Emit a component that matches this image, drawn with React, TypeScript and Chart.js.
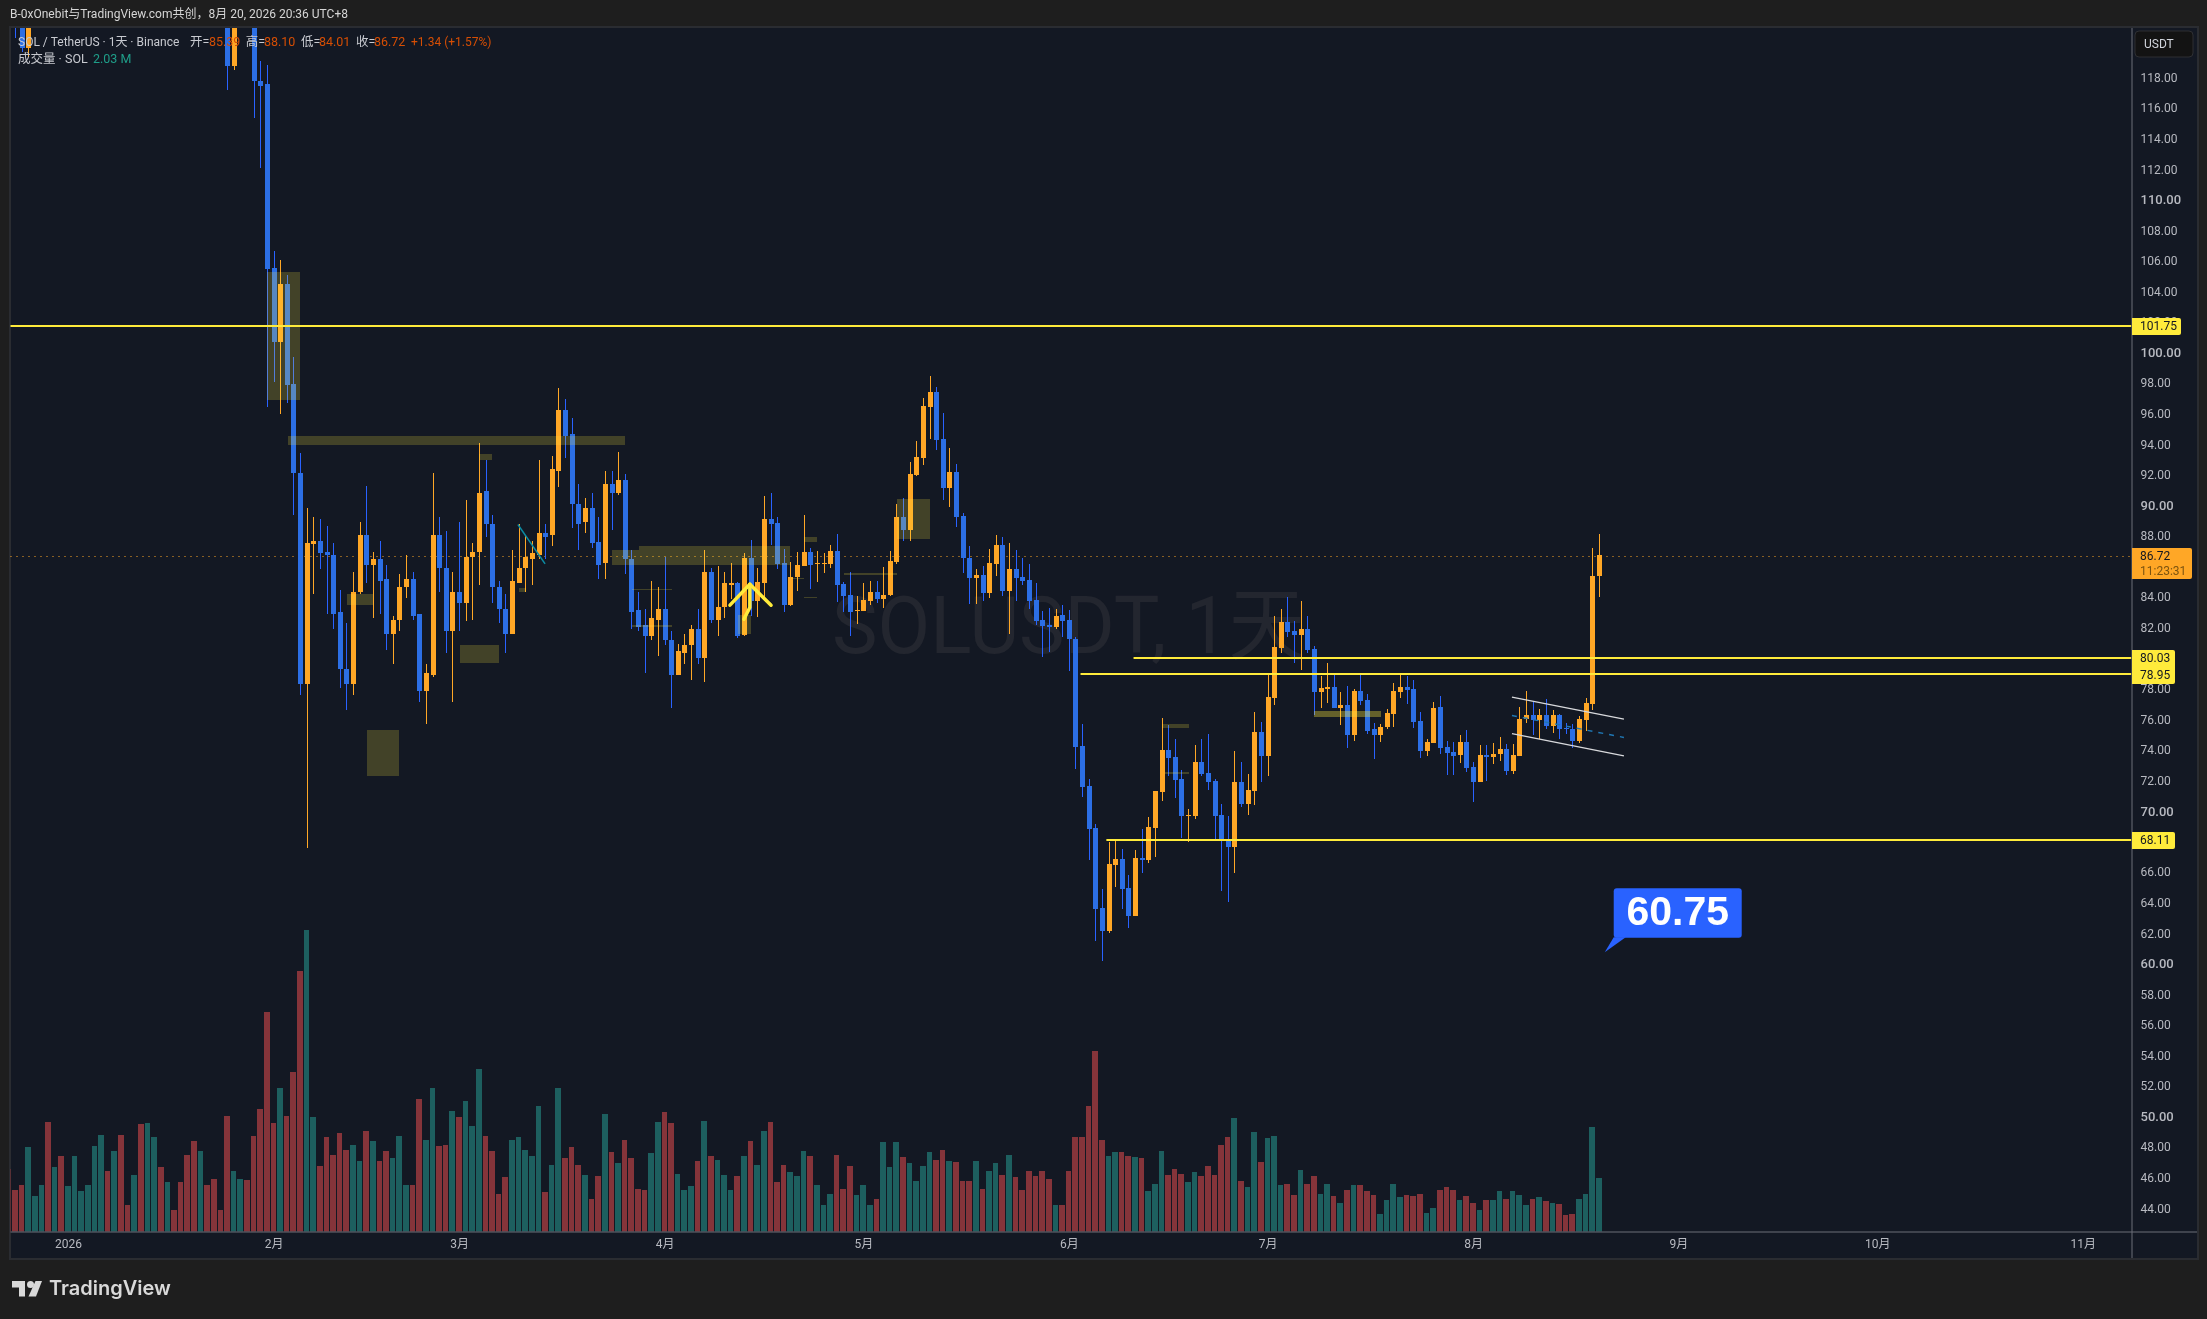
import React, { useEffect, useRef } from "react";
import { Chart, registerables } from "chart.js";

Chart.register(...registerables);

const FIRST_DAY = -9; // day index of first bar, 0 = 2026-01-01

const opens = [
  125.5,124.0,122.8,119.95,123.5,124.6,126.0,124.0,125.5,124.5,
  127.0,130.9,133.6,135.8,137.9,142.0,137.1,140.1,136.0,135.2,
  138.2,133.4,137.2,138.0,133.6,135.0,134.2,131.5,128.1,126.2,
  129.1,127.5,125.9,125.0,118.77,124.0,126.5,122.6,117.77,117.57,
  105.53,100.71,104.48,97.9,92.14,78.33,87.43,87.63,86.97,86.77,
  82.98,79.31,78.33,84.29,88.08,86.12,86.45,85.14,81.54,82.46,
  84.62,85.2,82.85,77.87,78.92,88.08,85.92,81.8,84.35,83.57,
  86.58,86.91,90.9,88.8,84.68,83.24,81.54,84.88,85.86,86.51,
  86.77,88.15,88.02,92.27,96.2,94.63,90.05,88.87,89.85,87.56,
  86.19,91.42,90.77,91.68,86.51,83.11,82.13,81.41,82.52,83.24,
  81.21,78.92,80.36,80.82,81.93,79.97,85.6,82.52,83.31,84.81,
  84.94,81.5,86.54,83.72,84.9,89.09,88.83,86.21,83.46,85.29,
  86.01,86.93,86.14,86.14,86.14,86.99,84.83,84.11,83.07,83.07,
  83.72,84.31,83.85,84.11,86.27,89.22,88.37,91.97,93.08,96.42,
  97.4,94.32,91.12,92.16,89.29,86.54,85.23,85.42,84.25,86.14,
  87.39,84.38,85.82,85.29,85.1,83.79,82.48,82.15,82.02,82.81,
  82.48,81.27,74.24,71.62,68.88,63.64,62.14,66.45,66.85,64.95,
  63.12,66.91,66.78,68.88,71.23,73.98,73.52,72.08,69.66,69.66,
  73.2,72.48,71.95,69.73,68.16,67.63,71.89,70.45,71.3,75.16,
  73.59,77.38,80.66,82.36,81.77,81.51,81.9,80.59,77.78,77.97,
  78.1,76.73,76.93,74.96,77.84,77.25,75.36,74.96,75.49,76.33,
  77.78,78.1,77.97,75.88,73.92,74.44,76.79,74.18,73.85,73.65,
  74.5,72.87,71.89,73.65,73.52,73.72,74.05,72.61,73.59,76.01,
  76.27,75.94,76.27,75.55,76.27,75.44,75.37,74.59,75.96,77.01,85.39,
];

const highs = [
  126.5,125.0,123.5,124.5,125.4,126.6,127.2,126.0,126.4,127.4,
  131.3,134.0,136.2,138.3,142.6,142.9,140.6,141.2,136.9,138.8,
  139.0,137.8,138.6,138.8,135.6,135.8,134.9,132.2,128.9,129.6,
  129.9,128.1,126.5,125.6,124.6,127.2,127.1,123.4,119.08,118.82,
  106.64,106.05,105.07,99.67,93.43,89.85,89.2,89.07,88.67,87.5,
  84.42,82.26,85.66,88.93,91.29,86.97,87.69,86.12,82.72,85.53,
  86.71,85.6,82.85,79.64,92.08,89.26,88.28,85.66,88.93,90.31,
  87.5,94.04,92.99,89.33,85.07,84.16,87.1,88.8,88.02,87.69,
  92.99,88.74,93.25,97.7,96.92,95.68,91.42,90.44,90.83,89.2,
  92.27,92.21,93.45,92.01,87.04,84.29,83.24,85.01,84.62,86.64,
  81.8,80.95,81.6,82.13,83.24,87.04,85.92,85.99,85.66,86.25,
  85.0,86.86,87.71,85.88,90.59,90.79,89.22,87.13,86.27,86.93,
  89.35,87.19,86.99,86.86,87.39,88.11,84.97,85.62,84.05,84.9,
  85.03,85.03,85.95,86.99,90.07,90.46,92.82,94.19,97.01,98.45,
  97.73,96.03,93.74,92.69,89.48,87.32,85.82,86.01,87.13,88.04,
  87.91,87.52,87.06,86.54,86.14,84.9,83.07,83.26,83.2,83.46,
  83.13,81.35,75.68,72.08,69.14,64.88,67.96,68.09,67.5,65.8,
  67.44,68.81,69.6,71.3,76.08,75.62,74.7,72.67,70.12,74.31,
  74.7,75.03,72.08,70.45,69.66,73.92,73.2,72.41,76.47,75.81,
  78.89,82.75,83.21,83.99,82.42,83.73,82.75,80.79,78.82,79.67,
  78.89,77.78,78.17,77.97,78.89,77.65,75.75,75.68,76.66,78.37,
  78.89,78.82,78.56,76.47,74.7,77.12,77.52,74.57,74.5,74.96,
  75.29,73.2,74.31,74.31,74.44,74.83,74.37,74.37,76.79,77.84,
  77.12,76.66,77.32,76.6,76.34,75.76,75.7,76.22,77.4,87.22,88.10,
];

const lows = [
  123.5,120.56,119.69,119.36,122.6,123.9,123.4,123.2,123.8,124.1,
  126.5,130.0,132.8,134.9,137.1,136.4,136.3,135.5,134.6,134.6,
  132.7,133.0,136.1,133.1,132.9,133.6,130.9,127.4,125.6,125.7,
  126.9,125.3,124.4,117.14,118.49,123.2,122.2,115.37,112.1,96.42,
  98.05,95.94,96.66,89.33,77.61,67.56,84.16,85.8,82.85,81.93,
  78.07,76.63,77.55,84.22,84.88,82.59,82.91,80.5,79.64,81.8,
  83.96,82.52,77.15,75.65,78.73,84.35,80.36,77.15,81.74,82.39,
  82.52,84.81,87.95,83.63,82.32,80.3,81.54,84.88,84.35,84.75,
  86.51,86.51,87.36,91.16,93.12,88.54,87.04,88.15,87.17,85.14,
  85.14,88.41,90.7,85.47,81.87,81.74,78.99,81.15,80.1,80.82,
  76.7,78.86,79.58,78.53,79.64,78.4,82.26,81.41,82.65,83.83,
  81.28,81.43,82.76,82.68,83.79,87.39,85.82,83.0,83.39,84.38,
  86.01,84.51,84.97,85.56,85.88,83.66,83.0,81.43,82.22,83.07,
  83.46,83.59,83.26,84.05,86.14,87.65,87.65,91.9,92.62,94.32,
  93.6,90.33,89.87,88.56,85.56,83.53,83.53,83.72,83.92,85.36,
  84.05,81.56,83.72,84.77,83.2,82.15,80.06,80.38,81.89,81.37,
  79.14,72.74,70.91,66.78,61.48,60.17,62.0,65.02,63.58,62.33,
  63.12,65.93,66.59,66.98,70.64,72.28,70.84,68.22,67.96,69.47,
  72.28,71.36,68.16,64.75,64.03,65.93,70.25,69.73,70.38,71.89,
  72.28,76.93,80.33,81.38,79.67,79.22,80.33,76.27,76.73,77.06,
  76.73,75.62,74.11,74.57,76.93,75.03,73.39,74.5,75.36,75.49,
  77.38,77.0,75.42,73.46,73.59,74.44,73.72,72.34,72.34,73.13,
  72.54,70.58,71.89,71.95,73.06,73.26,72.34,72.41,73.59,75.75,
  74.96,74.7,75.36,75.09,74.7,75.05,74.13,74.46,75.24,76.62,84.01,
];

const closes = [
  124.0,122.8,119.95,123.5,124.6,126.0,124.0,125.5,124.5,127.0,
  130.9,133.6,135.8,137.9,142.0,137.1,140.1,136.0,135.2,138.2,
  133.4,137.2,138.0,133.6,135.0,134.2,131.5,128.1,126.2,129.1,
  127.5,125.9,125.0,118.77,124.0,126.5,122.6,117.73,117.44,105.49,
  100.71,104.48,97.84,92.1,78.33,87.5,87.63,86.9,86.71,82.91,
  79.25,78.33,84.35,88.08,86.12,86.45,85.01,81.54,82.52,84.68,
  85.2,82.72,77.87,78.99,88.08,85.86,81.8,84.35,83.57,86.64,
  86.97,90.83,88.74,84.68,83.18,81.54,85.01,85.92,86.58,86.84,
  88.21,87.95,92.34,96.2,94.56,90.05,88.8,89.85,87.5,86.12,
  91.42,90.77,91.68,86.45,83.04,82.06,81.41,82.59,83.24,81.15,
  78.92,80.43,80.82,81.93,79.97,85.6,82.52,83.37,84.88,84.94,
  81.47,86.54,83.72,84.97,89.09,88.76,86.14,83.46,85.29,86.08,
  86.93,86.08,86.21,86.21,86.99,84.77,84.05,83.0,83.13,83.79,
  84.31,83.85,84.11,86.34,89.22,88.37,92.03,93.15,96.48,97.4,
  94.26,91.12,92.16,89.22,86.54,85.23,85.42,84.25,86.21,87.39,
  84.38,85.82,85.23,85.03,83.72,82.41,82.09,82.02,82.74,82.41,
  81.24,74.2,71.56,68.81,63.58,62.14,66.52,66.85,64.88,63.12,
  66.91,66.78,68.94,71.3,73.98,73.46,72.02,69.66,69.73,73.2,
  72.41,71.89,69.66,68.16,67.63,71.89,70.45,71.36,75.16,73.59,
  77.45,80.72,82.36,81.7,81.51,81.9,80.53,77.78,78.04,78.1,
  76.73,76.93,74.96,77.84,77.19,75.22,74.96,75.49,76.4,77.84,
  78.1,77.91,75.81,73.92,74.5,76.73,74.11,73.78,73.59,74.5,
  72.8,71.89,73.65,73.52,73.72,74.05,72.61,73.65,76.01,76.27,
  75.94,76.27,75.55,76.27,75.36,75.37,74.59,76.03,77.07,85.39,86.72,
];

const volumes = [
  2.39,1.59,1.78,3.22,1.33,1.78,4.17,2.43,2.88,1.71,
  2.85,1.52,1.78,3.26,3.68,2.28,3.04,3.68,0.99,2.16,
  4.06,4.10,3.60,2.43,1.86,0.83,1.86,2.92,3.45,3.07,
  1.78,2.01,0.83,4.40,2.31,2.01,1.97,3.64,4.63,8.31,
  4.10,5.43,4.40,6.07,9.90,11.42,4.36,2.47,3.57,2.92,
  3.72,3.11,3.30,2.66,3.83,3.45,2.69,3.07,2.77,3.64,
  1.75,1.78,5.01,3.49,5.46,3.26,3.30,4.59,4.33,4.97,
  4.02,6.15,3.64,3.07,1.44,2.05,3.49,3.57,3.11,2.85,
  4.78,1.48,2.54,5.46,2.77,3.22,2.54,2.16,1.25,2.09,
  4.44,3.00,2.58,3.49,2.77,1.63,1.59,2.96,4.17,4.55,
  4.10,2.20,1.56,1.71,2.66,4.21,2.88,2.73,2.16,1.56,
  2.12,2.88,3.45,2.54,3.83,4.14,1.86,2.54,2.24,2.09,
  3.07,2.85,1.78,1.02,1.44,2.92,1.63,2.50,1.37,1.78,
  1.02,1.25,3.38,2.43,3.38,2.81,2.58,1.93,2.50,3.00,
  2.73,3.11,2.66,2.62,1.93,1.90,2.69,1.63,2.31,2.58,
  2.16,2.92,2.05,1.56,2.31,2.09,2.28,2.01,1.02,0.99,
  2.28,3.57,3.57,4.78,6.83,3.49,2.88,3.00,3.00,2.88,
  2.81,2.77,1.52,1.82,3.04,2.16,2.39,2.20,1.86,2.24,
  2.09,2.50,2.16,3.30,3.60,4.29,1.90,1.67,3.76,2.62,
  3.53,3.64,1.75,1.82,1.40,2.35,1.82,2.12,1.44,1.82,
  1.33,1.10,1.59,1.78,1.75,1.52,1.37,0.68,1.18,1.82,
  1.29,1.40,1.33,1.44,0.72,0.91,1.59,1.67,1.59,1.21,
  1.33,1.10,0.83,1.21,1.18,1.52,1.25,1.52,1.37,0.99,
  1.25,1.29,1.14,1.10,1.06,0.61,0.68,1.25,1.44,3.95,2.03,
];

const monthTicks = [0, 31, 59, 90, 120, 151, 181, 212, 243, 273, 304];
const monthLabels = ["2026", "2月", "3月", "4月", "5月", "6月", "7月", "8月", "9月", "10月", "11月"];
const priceTicks = [
  44, 46, 48, 50, 52, 54, 56, 58, 60, 62, 64, 66, 68, 70, 72, 74, 76, 78, 80, 82, 84, 86, 88, 90,
  92, 94, 96, 98, 100, 102, 104, 106, 108, 110, 112, 114, 116, 118, 120,
];

// horizontal levels: [start day, price]
const levels = [
  [-9, 101.75],
  [160.7, 80.03],
  [152.7, 78.95],
  [156.6, 68.11],
];
// shaded zones: [day from, day to, price top, price bottom, strength]
const zones = [
  [30, 34.9, 105.26, 96.89, 0.2],
  [33.1, 83.9, 94.5, 93.97, 0.2],
  [61.95, 63.9, 93.32, 92.99, 0.2],
  [42, 46, 84.22, 83.5, 0.2],
  [45, 49.9, 75.26, 72.25, 0.2],
  [59, 65, 80.88, 79.7, 0.2],
  [68, 69, 84.55, 84.35, 0.2],
  [82, 86, 87.1, 86.06, 0.2],
  [86, 108.8, 87.3, 86.12, 0.2],
  [85, 91, 84.5, 84.42, 0.2],
  [85, 91, 82.13, 82.0, 0.2],
  [101, 103, 82.81, 81.56, 0.2],
  [111, 113, 87.91, 87.58, 0.2],
  [109, 111, 85.23, 85.16, 0.2],
  [111, 113, 83.98, 83.92, 0.2],
  [117, 125, 85.56, 85.42, 0.2],
  [125, 130, 90.4, 87.78, 0.2],
  [165, 169, 75.68, 75.42, 0.2],
  [165.5, 169, 72.54, 72.41, 0.2],
  [188, 198, 76.53, 76.14, 0.35],
];
// sloped drawings: [day a, price a, day b, price b]
const channelLines = [
  [217.8, 77.44, 234.7, 76.0],
  [217.8, 75.05, 234.7, 73.6],
];
const channelMid = [217.8, 76.24, 234.7, 74.8];
const tealLine = [67.8, 88.74, 71.9, 86.16];
const arrowHead = [
  [99.8, 83.46],
  [102.8, 84.83],
  [106, 83.46],
];
const arrowShaft = [
  [102.8, 84.83],
  [102.8, 83.31],
  [101.9, 82.54],
];
const calloutPoint = [231.8, 60.75];
const LAST_PRICE = 86.72;

const FONT = '"Roboto","Noto Sans CJK SC",sans-serif';
const BLUE = "#2c6fe5";
const BLUE_WICK = "#2962ff";
const ORANGE = "#ffa726";
const YELLOW = "#ffeb3b";
const VOL_UP = "#1d5f5f";
const VOL_DOWN = "#85343a";

const days = opens.map((_, k) => k + FIRST_DAY);
const isUp = opens.map((o, k) => closes[k] >= o);

function txt(ctx: any, s: string, x: number, y: number, color: string, font: string, align: any = "left") {
  ctx.fillStyle = color;
  ctx.font = font;
  ctx.textAlign = align;
  ctx.textBaseline = "middle";
  ctx.fillText(s, x, y);
}

function snapBars(chart: any) {
  const step = chart.scales.x.getPixelForValue(1) - chart.scales.x.getPixelForValue(0);
  const snapY = (el: any) => {
    const top = Math.round(Math.min(el.y, el.base));
    let bottom = Math.round(Math.max(el.y, el.base));
    if (bottom <= top) bottom = top + 1;
    el.y = top;
    el.base = bottom;
    el.height = bottom - top;
  };
  chart.getDatasetMeta(0).data.forEach((el: any) => {
    const cx = Math.floor(el.x);
    el.x = cx + 0.5;
    el.width = 5;
    snapY(el);
  });
  chart.getDatasetMeta(1).data.forEach((el: any) => {
    const cx = Math.floor(el.x);
    el.x = cx + 0.5;
    el.width = 1;
    snapY(el);
  });
  chart.getDatasetMeta(2).data.forEach((el: any) => {
    const left = Math.floor(el.x) - 3;
    const right = Math.floor(el.x + step) - 4;
    el.x = (left + right) / 2;
    el.width = right - left;
    snapY(el);
  });
}

const tvPlugin = {
  id: "tvDecor",
  beforeDraw(chart: any) {
    const ctx = chart.ctx;
    ctx.save();
    ctx.fillStyle = "#1e1e1e";
    ctx.fillRect(0, 0, 2207, 1319);
    ctx.fillStyle = "#2a2c31";
    ctx.fillRect(9, 26, 2190, 1234);
    ctx.fillStyle = "#131823";
    ctx.fillRect(11, 28, 2186, 1230);
    ctx.restore();
    // nudge price labels to sit where the reference has them
    chart.scales.y.getLabelItems(chart.chartArea).forEach((it: any) => {
      const t = it.options.translation;
      it.options.translation = [t[0], t[1] + 1.5];
    });
  },
  beforeDatasetsDraw(chart: any) {
    const { ctx, chartArea: a, scales } = chart;
    snapBars(chart);
    ctx.save();
    // watermark
    const wm = "SOLUSDT, 1天";
    ctx.font = '400 80px "Roboto","Noto Sans CJK SC",sans-serif';
    const sx = 473 / ctx.measureText(wm).width;
    ctx.translate(832, 633);
    ctx.scale(sx, 1);
    ctx.fillStyle = "#23262f";
    ctx.textAlign = "left";
    ctx.textBaseline = "middle";
    ctx.fillText(wm, 0, 0);
    ctx.restore();

    ctx.save();
    ctx.strokeStyle = ORANGE;
    ctx.lineWidth = 1;
    ctx.setLineDash([1, 5]);
    const y = Math.ceil(scales.y.getPixelForValue(LAST_PRICE)) + 0.5;
    ctx.beginPath();
    ctx.moveTo(a.left, y);
    ctx.lineTo(a.right, y);
    ctx.stroke();
    ctx.restore();
  },
  afterDatasetsDraw(chart: any) {
    const { ctx, chartArea: a, scales } = chart;
    const X = (v: number) => scales.x.getPixelForValue(v);
    const Y = (v: number) => scales.y.getPixelForValue(v);
    ctx.save();
    ctx.beginPath();
    ctx.rect(a.left, a.top, a.right - a.left, a.bottom - a.top);
    ctx.clip();
    zones.forEach(([d0, d1, p0, p1, s]) => {
      ctx.fillStyle = `rgba(255,235,59,${s})`;
      const l = Math.round(X(d0));
      const t = Math.round(Y(p0));
      ctx.fillRect(l, t, Math.round(X(d1)) - l, Math.max(1, Math.round(Y(p1)) - t));
    });
    ctx.strokeStyle = YELLOW;
    ctx.lineWidth = 2;
    levels.forEach(([d, p]) => {
      const y = Math.round(Y(p));
      ctx.beginPath();
      ctx.moveTo(X(d), y);
      ctx.lineTo(a.right, y);
      ctx.stroke();
    });
    ctx.strokeStyle = "#0c8ba3";
    ctx.lineWidth = 1.5;
    ctx.beginPath();
    ctx.moveTo(X(tealLine[0]), Y(tealLine[1]));
    ctx.lineTo(X(tealLine[2]), Y(tealLine[3]));
    ctx.stroke();
    ctx.strokeStyle = "#d8d9dc";
    ctx.lineWidth = 1.4;
    channelLines.forEach(([d0, p0, d1, p1]) => {
      ctx.beginPath();
      ctx.moveTo(X(d0), Y(p0));
      ctx.lineTo(X(d1), Y(p1));
      ctx.stroke();
    });
    ctx.strokeStyle = "#1f77b4";
    ctx.lineWidth = 1.4;
    ctx.setLineDash([5, 6]);
    ctx.beginPath();
    ctx.moveTo(X(channelMid[0]), Y(channelMid[1]));
    ctx.lineTo(X(channelMid[2]), Y(channelMid[3]));
    ctx.stroke();
    ctx.setLineDash([]);
    ctx.strokeStyle = YELLOW;
    ctx.lineWidth = 3.5;
    ctx.lineCap = "round";
    ctx.lineJoin = "round";
    [arrowHead, arrowShaft].forEach((pts) => {
      ctx.beginPath();
      pts.forEach(([d, p], k) => (k ? ctx.lineTo(X(d), Y(p)) : ctx.moveTo(X(d), Y(p))));
      ctx.stroke();
    });
    ctx.restore();

    // callout
    ctx.save();
    const tipX = X(calloutPoint[0]);
    const tipY = Y(calloutPoint[1]);
    const bx = tipX + 9;
    const by = tipY - 64;
    ctx.fillStyle = "#2962ff";
    ctx.beginPath();
    ctx.roundRect(bx, by, 128, 49.5, 3);
    ctx.fill();
    ctx.beginPath();
    ctx.moveTo(tipX, tipY);
    ctx.lineTo(bx, by + 49);
    ctx.lineTo(bx + 12, by + 49);
    ctx.closePath();
    ctx.fill();
    txt(ctx, "60.75", bx + 64, by + 26, "#ffffff", `bold 41px "Liberation Sans",${FONT}`, "center");

    // axis lines
    ctx.fillStyle = "#6c6f78";
    ctx.fillRect(a.right, a.top, 1, 1258 - a.top);
    ctx.fillRect(a.left, a.bottom, 2197 - a.left, 1);

    // price tags
    const tag = (x0: number, y0: number, w: number, h: number, c: string) => {
      ctx.fillStyle = c;
      ctx.beginPath();
      ctx.roundRect(x0, y0, w, h, [0, 2, 2, 0]);
      ctx.fill();
    };
    const tagFont = `12px ${FONT}`;
    tag(2132, 318, 49, 17, YELLOW);
    txt(ctx, "101.75", 2140, 327, "#131722", tagFont);
    tag(2132, 650, 43, 34, YELLOW);
    txt(ctx, "80.03", 2140, 659, "#131722", tagFont);
    txt(ctx, "78.95", 2140, 676, "#131722", tagFont);
    tag(2132, 832, 43, 17, YELLOW);
    txt(ctx, "68.11", 2140, 841, "#131722", tagFont);
    tag(2132, 548, 60, 31, ORANGE);
    txt(ctx, "86.72", 2140, 557, "#131722", tagFont);
    txt(ctx, "11:23:31", 2140, 571.5, "#7c5410", tagFont);

    // currency button
    ctx.fillStyle = "#131313";
    ctx.strokeStyle = "#2e2f33";
    ctx.lineWidth = 1;
    ctx.beginPath();
    ctx.roundRect(2135, 31, 58, 26, 4);
    ctx.fill();
    ctx.stroke();
    txt(ctx, "USDT", 2144, 45, "#d1d4dc", `12px ${FONT}`);

    // header, legend
    const lf = `12px ${FONT}`;
    const lf2 = `12.5px ${FONT}`;
    txt(ctx, "B-0xOnebit与TradingView.com共创，8月 20, 2026 20:36 UTC+8", 10, 15, "#d6d6d6", lf);
    const lab = "#c8cad0";
    const val = "#d64e04";
    txt(ctx, "SOL / TetherUS · 1天 · Binance", 18, 43, lab, lf);
    txt(ctx, "开=", 190, 43, lab, lf2);
    txt(ctx, "85.39", 209, 43, val, lf2);
    txt(ctx, "高=", 245.7, 43, lab, lf2);
    txt(ctx, "88.10", 264, 43, val, lf2);
    txt(ctx, "低=", 301, 43, lab, lf2);
    txt(ctx, "84.01", 319, 43, val, lf2);
    txt(ctx, "收=", 356, 43, lab, lf2);
    txt(ctx, "86.72", 374, 43, val, lf2);
    txt(ctx, "+1.34 (+1.57%)", 411, 43, val, lf);
    txt(ctx, "成交量 · SOL", 18, 60, lab, lf2);
    txt(ctx, "2.03 M", 93, 60, "#1f9e89", lf2);

    // footer logo
    ctx.fillStyle = "#d9d9d9";
    ctx.fillRect(12, 1281, 13, 6.5);
    ctx.fillRect(19, 1281, 6, 15.5);
    ctx.beginPath();
    ctx.arc(30.5, 1284.5, 3.5, 0, Math.PI * 2);
    ctx.fill();
    ctx.beginPath();
    ctx.moveTo(35.5, 1281);
    ctx.lineTo(42, 1281);
    ctx.lineTo(36, 1296.5);
    ctx.lineTo(28.5, 1296.5);
    ctx.closePath();
    ctx.fill();
    txt(ctx, "TradingView", 49, 1289, "#d9d9d9", '600 20px "Inter","Lato",sans-serif');
    ctx.restore();
  },
};

export default function App() {
  const ref = useRef<HTMLCanvasElement | null>(null);
  useEffect(() => {
    document.body.style.margin = "0";
    document.body.style.background = "#1e1e1e";
    const chart = new Chart(ref.current as any, {
      type: "bar",
      data: {
        datasets: [
          {
            label: "body",
            order: 0,
            grouped: false,
            barThickness: 5,
            inflateAmount: 0,
            yAxisID: "y",
            data: days.map((d, k) => ({ x: d, y: [opens[k], closes[k]] })),
            backgroundColor: isUp.map((u) => (u ? ORANGE : BLUE)),
          },
          {
            label: "wick",
            order: 1,
            grouped: false,
            barThickness: 1,
            inflateAmount: 0,
            yAxisID: "y",
            data: days.map((d, k) => ({ x: d, y: [lows[k], highs[k]] })),
            backgroundColor: isUp.map((u) => (u ? ORANGE : BLUE_WICK)),
          },
          {
            label: "volume",
            order: 2,
            grouped: false,
            barThickness: 5,
            inflateAmount: 0,
            yAxisID: "v",
            data: days.map((d, k) => ({ x: d, y: volumes[k] })),
            backgroundColor: isUp.map((u) => (u ? VOL_UP : VOL_DOWN)),
          },
        ] as any,
      },
      options: {
        responsive: false,
        animation: false,
        devicePixelRatio: 1,
        events: [],
        layout: { padding: { left: 10.5, top: 28, right: 10, bottom: 61 } },
        plugins: { legend: { display: false }, tooltip: { enabled: false } },
        scales: {
          x: {
            type: "linear",
            offset: false,
            min: -8.767,
            max: 311.29,
            grid: { display: false, offset: false, drawTicks: false },
            border: { display: false },
            afterBuildTicks(scale: any) {
              scale.ticks = monthTicks.map((v) => ({ value: v }));
            },
            afterFit(scale: any) {
              scale.height = 26.5;
            },
            ticks: {
              autoSkip: false,
              maxRotation: 0,
              minRotation: 0,
              padding: 6,
              color: "#b8bac1",
              font: { size: 12, family: FONT },
              callback: (v: any) => monthLabels[monthTicks.indexOf(v)] ?? "",
            },
          },
          y: {
            type: "linear",
            position: "right",
            min: 42.47,
            max: 121.23,
            grid: { display: false, drawTicks: false },
            border: { display: false },
            afterBuildTicks(scale: any) {
              scale.ticks = priceTicks.map((v) => ({ value: v }));
            },
            afterFit(scale: any) {
              scale.width = 65.5;
            },
            ticks: {
              autoSkip: false,
              padding: 9,
              crossAlign: "near",
              color: "#b8bac1",
              font: (c: any) => {
                const major = c.tick && c.tick.value % 10 === 0;
                return { size: major ? 13 : 12, weight: major ? "500" : "400", family: FONT };
              },
              callback: (v: any) => Number(v).toFixed(2),
            },
          },
          v: {
            type: "linear",
            display: false,
            min: 0,
            max: 45.66,
            grid: { display: false },
          },
        },
      } as any,
      plugins: [tvPlugin as any],
    });
    return () => chart.destroy();
  }, []);
  return (
    <canvas
      ref={ref}
      width={2207}
      height={1319}
      style={{ position: "absolute", left: 0, top: 0, width: 2207, height: 1319, display: "block" }}
    />
  );
}
